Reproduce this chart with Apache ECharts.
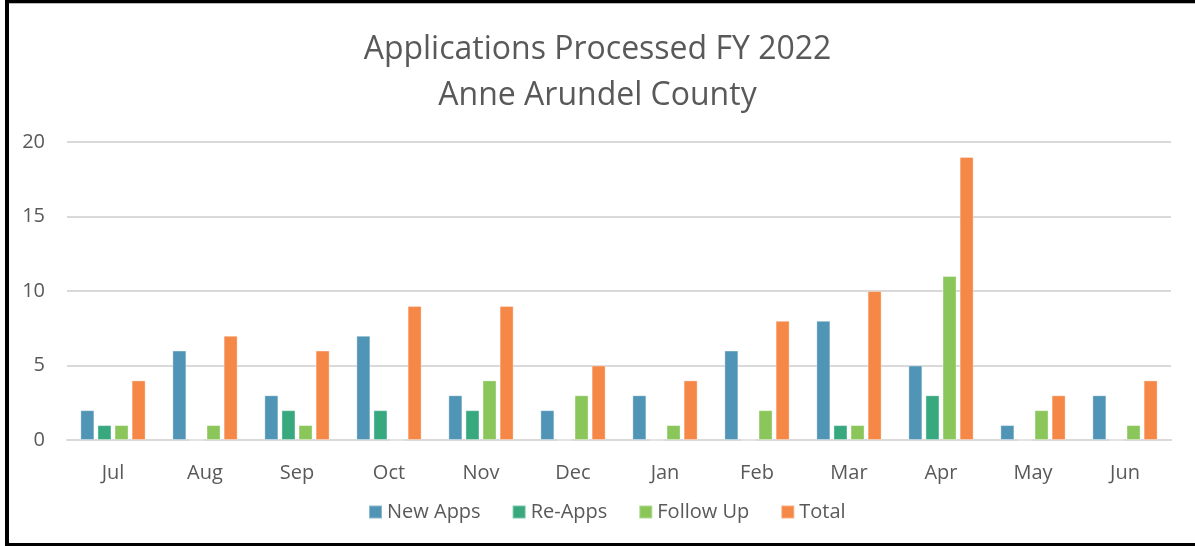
<!DOCTYPE html>
<html>
<head>
<meta charset="utf-8">
<script src="https://cdn.jsdelivr.net/npm/echarts@6/dist/echarts.min.js"></script>
<style>
  html, body { margin: 0; padding: 0; background: #fff; }
  #chart { position: absolute; left: 0; top: 0; width: 1195px; height: 546px; }
  .edge { position: absolute; background: #000; }
</style>
</head>
<body>
<div id="chart"></div>
<div class="edge" style="left:5px;top:0;width:1190px;height:3px;"></div>
<div class="edge" style="left:5px;top:3px;width:1190px;height:1px;background:#bbb;"></div>
<div class="edge" style="left:5px;top:0;width:4px;height:546px;"></div>
<div class="edge" style="left:5px;top:543px;width:1190px;height:3px;"></div>
<script>
const months = ["Jul", "Aug", "Sep", "Oct", "Nov", "Dec", "Jan", "Feb", "Mar", "Apr", "May", "Jun"];
const newApps = [2, 6, 3, 7, 3, 2, 3, 6, 8, 5, 1, 3];
const reApps = [1, 0, 2, 2, 2, 0, 0, 0, 1, 3, 0, 0];
const followUp = [1, 1, 1, 0, 4, 3, 1, 2, 1, 11, 2, 1];
const total = [4, 7, 6, 9, 9, 5, 4, 8, 10, 19, 3, 4];

const textColor = "#595959";
const font = "Open Sans";

function barSeries(name, data, color) {
  return {
    name: name,
    type: "bar",
    data: data,
    barWidth: 14,
    barGap: "22%",
    itemStyle: { color: color, borderColor: "rgba(255,255,255,0.35)", borderWidth: 1 },
  };
}

const chart = echarts.init(document.getElementById("chart"));
chart.setOption({
  animation: false,
  backgroundColor: "#fff",
  textStyle: { fontFamily: font },
  title: {
    text: "Applications Processed FY 2022\nAnne Arundel County",
    left: "center",
    top: 22,
    textStyle: { color: textColor, fontSize: 32, fontWeight: "normal", lineHeight: 46, fontFamily: font },
  },
  legend: {
    top: 497,
    left: 363,
    itemWidth: 13,
    itemHeight: 13,
    itemGap: 31,
    icon: "rect",
    textStyle: { color: textColor, fontSize: 20, fontFamily: font },
  },
  grid: { left: 67, right: 24, top: 142, bottom: 106, containLabel: false },
  xAxis: {
    type: "category",
    data: months,
    axisLine: { lineStyle: { color: "#d9d9d9", width: 2 } },
    axisTick: { show: false },
    axisLabel: { color: textColor, fontSize: 20, margin: 23, fontFamily: font },
  },
  yAxis: {
    type: "value",
    min: 0,
    max: 20,
    interval: 5,
    axisLine: { show: false },
    axisTick: { show: false },
    splitLine: { lineStyle: { color: "#d9d9d9", width: 2 } },
    axisLabel: { color: textColor, fontSize: 20, margin: 22, fontFamily: font },
  },
  series: [
    barSeries("New Apps", newApps, "#5094B6"),
    barSeries("Re-Apps", reApps, "#38A97F"),
    barSeries("Follow Up", followUp, "#8BC65A"),
    barSeries("Total", total, "#F58747"),
  ],
});
</script>
</body>
</html>
